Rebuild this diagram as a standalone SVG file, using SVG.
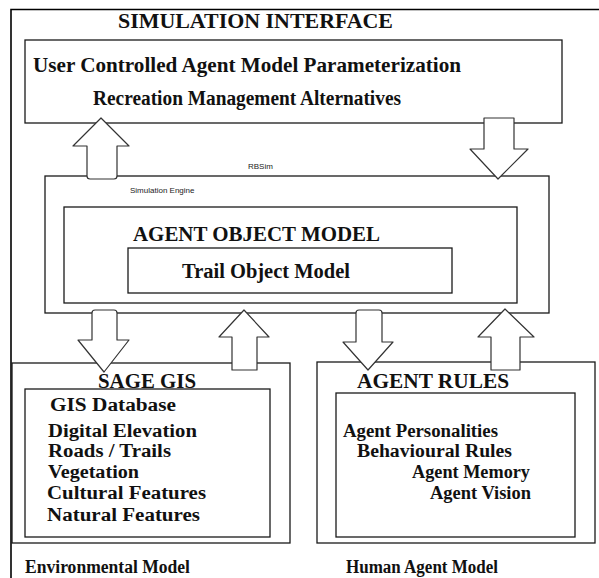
<svg xmlns="http://www.w3.org/2000/svg" width="599" height="578" viewBox="0 0 599 578">
<style>
.box{fill:none;stroke:#1a1a1a;stroke-width:1.3}
.frame{fill:none;stroke:#000;stroke-width:1.6}
.arr{fill:#fff;stroke:#333;stroke-width:1.2;stroke-linejoin:round}
.t{font-family:"Liberation Serif","Times New Roman",serif;font-weight:bold;fill:#111}
.s{font-family:"Liberation Sans",Arial,sans-serif;fill:#222;font-size:8px}
</style>
<rect width="599" height="578" fill="#fff"/>
<g id="frame">
<path class="frame" d="M11,578 V9.5 H599"/>
</g>
<g id="simulation-interface">
<text class="t" x="118" y="28" font-size="20" textLength="275" lengthAdjust="spacingAndGlyphs">SIMULATION INTERFACE</text>
<rect class="box" x="25" y="40" width="537" height="83"/>
<text class="t" x="33" y="72" font-size="20" textLength="428" lengthAdjust="spacingAndGlyphs">User Controlled Agent Model Parameterization</text>
<text class="t" x="93" y="105" font-size="20" textLength="308" lengthAdjust="spacingAndGlyphs">Recreation Management Alternatives</text>
</g>
<g id="rbsim">
<text class="s" x="248" y="169">RBSim</text>
<rect class="box" x="45" y="176" width="504" height="137"/>
<text class="s" x="130" y="193">Simulation Engine</text>
</g>
<g id="agent-object-model">
<rect class="box" x="64" y="207" width="453" height="96"/>
<text class="t" x="133" y="241" font-size="20" textLength="247" lengthAdjust="spacingAndGlyphs">AGENT OBJECT MODEL</text>
</g>
<g id="trail-object-model">
<rect class="box" x="128" y="248" width="324" height="45"/>
<text class="t" x="182" y="278" font-size="20" textLength="168" lengthAdjust="spacingAndGlyphs">Trail Object Model</text>
</g>
<g id="sage-gis">
<rect class="box" x="12" y="363" width="278" height="180"/>
<text class="t" x="98" y="388" font-size="20" textLength="98" lengthAdjust="spacingAndGlyphs">SAGE GIS</text>
</g>
<g id="gis-database">
<rect class="box" x="25" y="389" width="245" height="148"/>
<text class="t" x="50" y="411" font-size="18" textLength="126" lengthAdjust="spacingAndGlyphs">GIS Database</text>
<text class="t" x="48" y="437" font-size="18" textLength="149" lengthAdjust="spacingAndGlyphs">Digital Elevation</text>
<text class="t" x="48" y="457" font-size="18" textLength="123" lengthAdjust="spacingAndGlyphs">Roads / Trails</text>
<text class="t" x="48" y="478" font-size="18" textLength="91" lengthAdjust="spacingAndGlyphs">Vegetation</text>
<text class="t" x="47" y="499" font-size="18" textLength="159" lengthAdjust="spacingAndGlyphs">Cultural Features</text>
<text class="t" x="47" y="521" font-size="18" textLength="153" lengthAdjust="spacingAndGlyphs">Natural Features</text>
</g>
<g id="agent-rules">
<rect class="box" x="317" y="362" width="278" height="181"/>
<text class="t" x="357" y="388" font-size="20" textLength="152" lengthAdjust="spacingAndGlyphs">AGENT RULES</text>
</g>
<g id="agent-rules-list">
<rect class="box" x="336" y="393" width="239" height="144"/>
<text class="t" x="343" y="437" font-size="18" textLength="155" lengthAdjust="spacingAndGlyphs">Agent Personalities</text>
<text class="t" x="357" y="457" font-size="18" textLength="155" lengthAdjust="spacingAndGlyphs">Behavioural Rules</text>
<text class="t" x="412" y="478" font-size="18" textLength="118" lengthAdjust="spacingAndGlyphs">Agent Memory</text>
<text class="t" x="430" y="499" font-size="18" textLength="101" lengthAdjust="spacingAndGlyphs">Agent Vision</text>
</g>
<g id="labels">
<text class="t" x="25" y="573" font-size="18" textLength="165" lengthAdjust="spacingAndGlyphs" font-weight="normal">Environmental Model</text>
<text class="t" x="346" y="573" font-size="18" textLength="152" lengthAdjust="spacingAndGlyphs" font-weight="normal">Human Agent Model</text>
</g>
<g id="connectors">
<path class="arr" d="M101,118 L129,146 H117 V176 Q117,179 114,179 H90 Q87,179 87,176 V146 H73 Z"/>
<path class="arr" d="M498,179 L528,149 H514 V118 H484 V149 H470 Z"/>
<path class="arr" d="M104,372 L129,340 H117 V313 Q117,310 114,310 H95 Q92,310 92,313 V340 H78 Z"/>
<path class="arr" d="M244,310 L269,337 H257 V370 H232 V337 H219 Z"/>
<path class="arr" d="M368,370 L393,342 H382 V313 Q382,310 379,310 H359 Q356,310 356,313 V342 H343 Z"/>
<path class="arr" d="M505,309 L534,337 H520 V370 H491 V337 H478 Z"/>
</g>
</svg>
